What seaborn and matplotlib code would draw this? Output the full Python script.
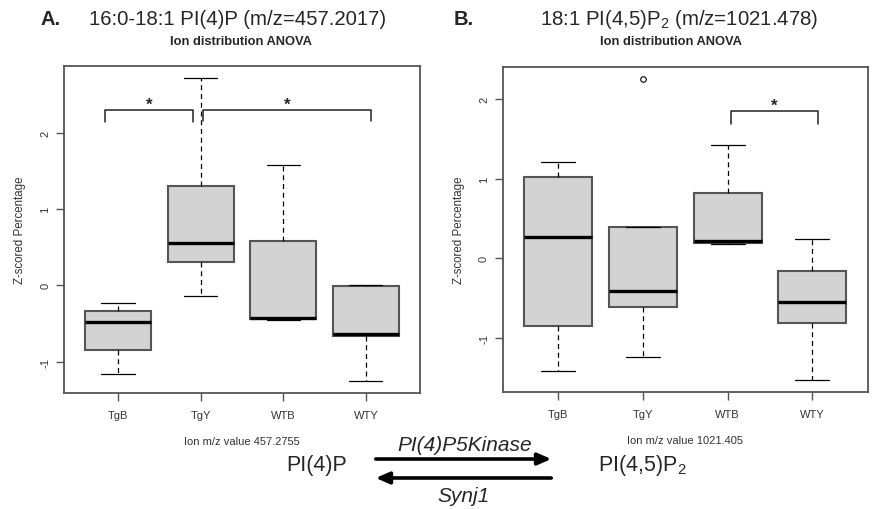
import numpy as np
import pandas as pd
import seaborn as sns
import matplotlib.pyplot as plt
from matplotlib.patches import FancyArrowPatch

# === DATA (five values per group: min, q1, median, q3, max) ===

groups = ['TgB', 'TgY', 'WTB', 'WTY']

pi4p_tgb = [-1.157, -0.85, -0.48, -0.332, -0.232]
pi4p_tgy = [-0.136, 0.30, 0.55, 1.304, 2.713]
pi4p_wtb = [-0.455, -0.44, -0.424, 0.58, 1.575]
pi4p_wty = [-1.257, -0.67, -0.64, -0.013, 0.008]

pip2_tgb = [-1.416, -0.852, 0.271, 1.019, 1.207]
pip2_tgy = [-1.241, -0.606, -0.41, 0.396, 2.25]
pip2_wtb = [0.18, 0.196, 0.221, 0.818, 1.42]
pip2_wty = [-1.525, -0.815, -0.548, -0.163, 0.246]

# significance brackets: (left, right, top, leg bottom)
pi4p_brackets = [(-0.157, 0.907, 2.295, 2.14), (1.03, 3.06, 2.295, 2.15)]
pip2_brackets = [(2.035, 3.07, 1.85, 1.69)]

yticks = [-1, 0, 1, 2]

def long_table(values):
    rows = []
    for g, vals in zip(groups, values):
        for v in vals:
            rows.append({'group': g, 'z': v})
    return pd.DataFrame(rows)

df_a = long_table([pi4p_tgb, pi4p_tgy, pi4p_wtb, pi4p_wty])
df_b = long_table([pip2_tgb, pip2_tgy, pip2_wtb, pip2_wty])

# === STYLE ===
sns.set_style("ticks")
plt.rcParams['font.family'] = ['Liberation Sans', 'DejaVu Sans']
plt.rcParams['mathtext.default'] = 'regular'

fig = plt.figure(figsize=(8.77, 5.10), dpi=100)
ax_a = fig.add_axes([0.073, 0.2275, 0.406, 0.641])
ax_b = fig.add_axes([0.5735, 0.2294, 0.416, 0.637])

edge = '#555555'

def draw_panel(ax, df, brackets, ylim, xlabel):
    sns.boxplot(data=df, x='group', y='z', order=groups, ax=ax, width=0.8,
                color='#d3d3d3', linecolor=edge, linewidth=1.5, whis=1.5,
                fliersize=4,
                boxprops={'edgecolor': edge, 'facecolor': '#d3d3d3', 'linewidth': 1.5},
                whiskerprops={'color': 'black', 'linestyle': (0, (4, 3)), 'linewidth': 0.9},
                capprops={'color': 'black', 'linewidth': 0.9},
                medianprops={'color': 'black', 'linewidth': 2.4},
                flierprops={'marker': 'o', 'markerfacecolor': 'none',
                            'markeredgecolor': 'black', 'markeredgewidth': 0.8})
    ax.set_xlim(-0.653, 3.655)
    ax.set_ylim(*ylim)
    ax.set_yticks(yticks)
    ax.set_yticklabels([str(t) for t in yticks])
    ax.set_xlabel(xlabel, fontsize=8, color='#333333', labelpad=12)
    ax.set_ylabel('Z-scored Percentage', fontsize=8.3, color='#333333', labelpad=10)
    ax.tick_params(axis='both', direction='out', length=6, width=1.0, color=edge,
                   labelsize=8, labelcolor='#333333')
    ax.tick_params(axis='x', pad=6)
    ax.tick_params(axis='y', labelrotation=90, pad=4)
    for lab in ax.get_yticklabels():
        lab.set_va('center')
    for sp in ax.spines.values():
        sp.set_visible(True)
        sp.set_color(edge)
        sp.set_linewidth(1.3)
    for x0, x1, top, bot in brackets:
        ax.plot([x0, x0, x1, x1], [bot, top, top, bot], color='#222222', lw=1.1)
        ax.text((x0 + x1) / 2, top - 0.02, '*', ha='center', va='bottom',
                fontsize=12, fontweight='bold')

draw_panel(ax_a, df_a, pi4p_brackets, (-1.41, 2.87), 'Ion m/z value 457.2755')
draw_panel(ax_b, df_b, pip2_brackets, (-1.676, 2.40), 'Ion m/z value 1021.405')

# === TITLES ===
fig.text(0.058, 0.961, 'A.', fontsize=14.5, fontweight='bold', ha='center', va='center')
fig.text(0.271, 0.961, '16:0-18:1 PI(4)P (m/z=457.2017)', fontsize=14.7, ha='center', va='center')
fig.text(0.275, 0.918, 'Ion distribution ANOVA', fontsize=9.3, fontweight='bold',
         ha='center', va='center')

fig.text(0.529, 0.961, 'B.', fontsize=14.5, fontweight='bold', ha='center', va='center')
fig.text(0.774, 0.961, '18:1 PI(4,5)P$_2$ (m/z=1021.478)', fontsize=14.7, ha='center', va='center')
fig.text(0.765, 0.918, 'Ion distribution ANOVA', fontsize=9.3, fontweight='bold',
         ha='center', va='center')

# === REACTION SCHEME ===
fig.text(0.3615, 0.088, 'PI(4)P', fontsize=15.5, ha='center', va='center')
fig.text(0.732, 0.088, 'PI(4,5)P$_2$', fontsize=15.5, ha='center', va='center')
fig.text(0.530, 0.1255, 'PI(4)P5Kinase', fontsize=15, style='italic', ha='center', va='center')
fig.text(0.528, 0.0255, 'Synj1', fontsize=15, style='italic', ha='center', va='center')
for start, end in [((0.4253, 0.098), (0.6317, 0.098)), ((0.6317, 0.0608), (0.4253, 0.0608))]:
    fig.patches.append(FancyArrowPatch(
        start, end, transform=fig.transFigure,
        arrowstyle='-|>,head_length=8,head_width=3.5', lw=2.6, color='black',
        mutation_scale=1))

fig.savefig('out.png', dpi=100)
